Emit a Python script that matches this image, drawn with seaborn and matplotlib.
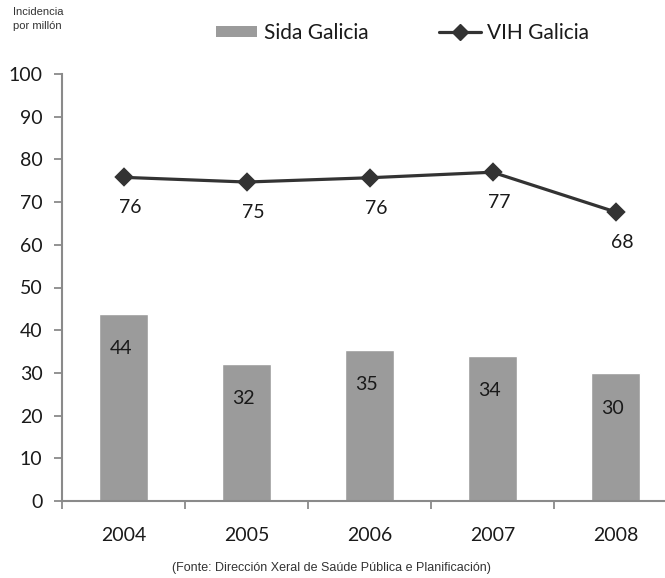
import matplotlib
matplotlib.use("Agg")
import matplotlib.pyplot as plt
import seaborn as sns
from matplotlib.patches import Patch
from matplotlib.lines import Line2D

# data
years = ["2004", "2005", "2006", "2007", "2008"]
sida_galicia = [43.8, 32.1, 35.4, 33.9, 29.9]
vih_galicia = [75.8, 74.7, 75.7, 77.0, 67.7]
y_ticks = [0, 10, 20, 30, 40, 50, 60, 70, 80, 90, 100]

bar_color = "#9b9b9b"
line_color = "#333333"
axis_color = "#8a8a8a"
text_color = "#1a1a1a"

sns.set_style("white")
plt.rcParams["font.family"] = ["Lato", "DejaVu Sans"]

fig = plt.figure(figsize=(6.65, 5.78), dpi=100)
ax = fig.add_axes([62 / 665, 77 / 578, 615 / 665, 427 / 578])

sns.barplot(x=years, y=sida_galicia, color=bar_color, width=0.4,
            saturation=1, ax=ax)
sns.pointplot(x=years, y=vih_galicia, color=line_color, markers="D",
              markersize=8, linewidth=2.3, ax=ax)

# value labels
for i, v in enumerate(sida_galicia):
    ax.annotate(f"{v:.0f}", (i, v), xytext=(-2, -25), textcoords="offset points",
                ha="center", va="center", fontsize=14, color=text_color)
for i, v in enumerate(vih_galicia):
    ax.annotate(f"{v:.0f}", (i, v), xytext=(5, -22), textcoords="offset points",
                ha="center", va="center", fontsize=14, color=text_color)

ax.set_xlim(-0.5, 4.5)
ax.set_ylim(0, 100)
ax.set_yticks(y_ticks)
ax.set_xticks([i - 0.5 for i in range(len(years) + 1)], minor=True)
ax.set_xlabel("")
ax.set_ylabel("")
ax.tick_params(axis="x", which="major", length=0, pad=19, labelsize=14,
               labelcolor=text_color)
ax.tick_params(axis="x", which="minor", length=6, width=1.3, color=axis_color,
               direction="out", bottom=True)
ax.tick_params(axis="y", length=6, width=1.3, color=axis_color, direction="out",
               left=True, labelsize=14, labelcolor=text_color, pad=8)
sns.despine(ax=ax)
for side in ["left", "bottom"]:
    ax.spines[side].set_color(axis_color)
    ax.spines[side].set_linewidth(1.5)

# legend
handles = [
    Patch(facecolor=bar_color, edgecolor="none", label="Sida Galicia"),
    Line2D([0], [0], color=line_color, lw=2.3, marker="D", markersize=8,
           label="VIH Galicia"),
]
fig.legend(handles=handles, loc="center", bbox_to_anchor=(0.605, 0.943),
           ncol=2, frameon=False, fontsize=15, handlelength=2.0,
           handleheight=0.5, handletextpad=0.3, columnspacing=3.4,
           labelcolor=text_color)

fig.text(13 / 665, 1 - 19 / 578, "Incidencia\npor millón", ha="left", va="center",
         fontsize=8, family=["Liberation Sans", "DejaVu Sans"], color="#333333",
         linespacing=1.5)

fig.text(0.498, 1 - 568 / 578,
         "(Fonte: Dirección Xeral de Saúde Pública e Planificación)",
         ha="center", va="center", fontsize=9,
         family=["Liberation Sans Narrow", "Liberation Sans", "DejaVu Sans"],
         color="#333333")

fig.savefig("out.png", dpi=100)
